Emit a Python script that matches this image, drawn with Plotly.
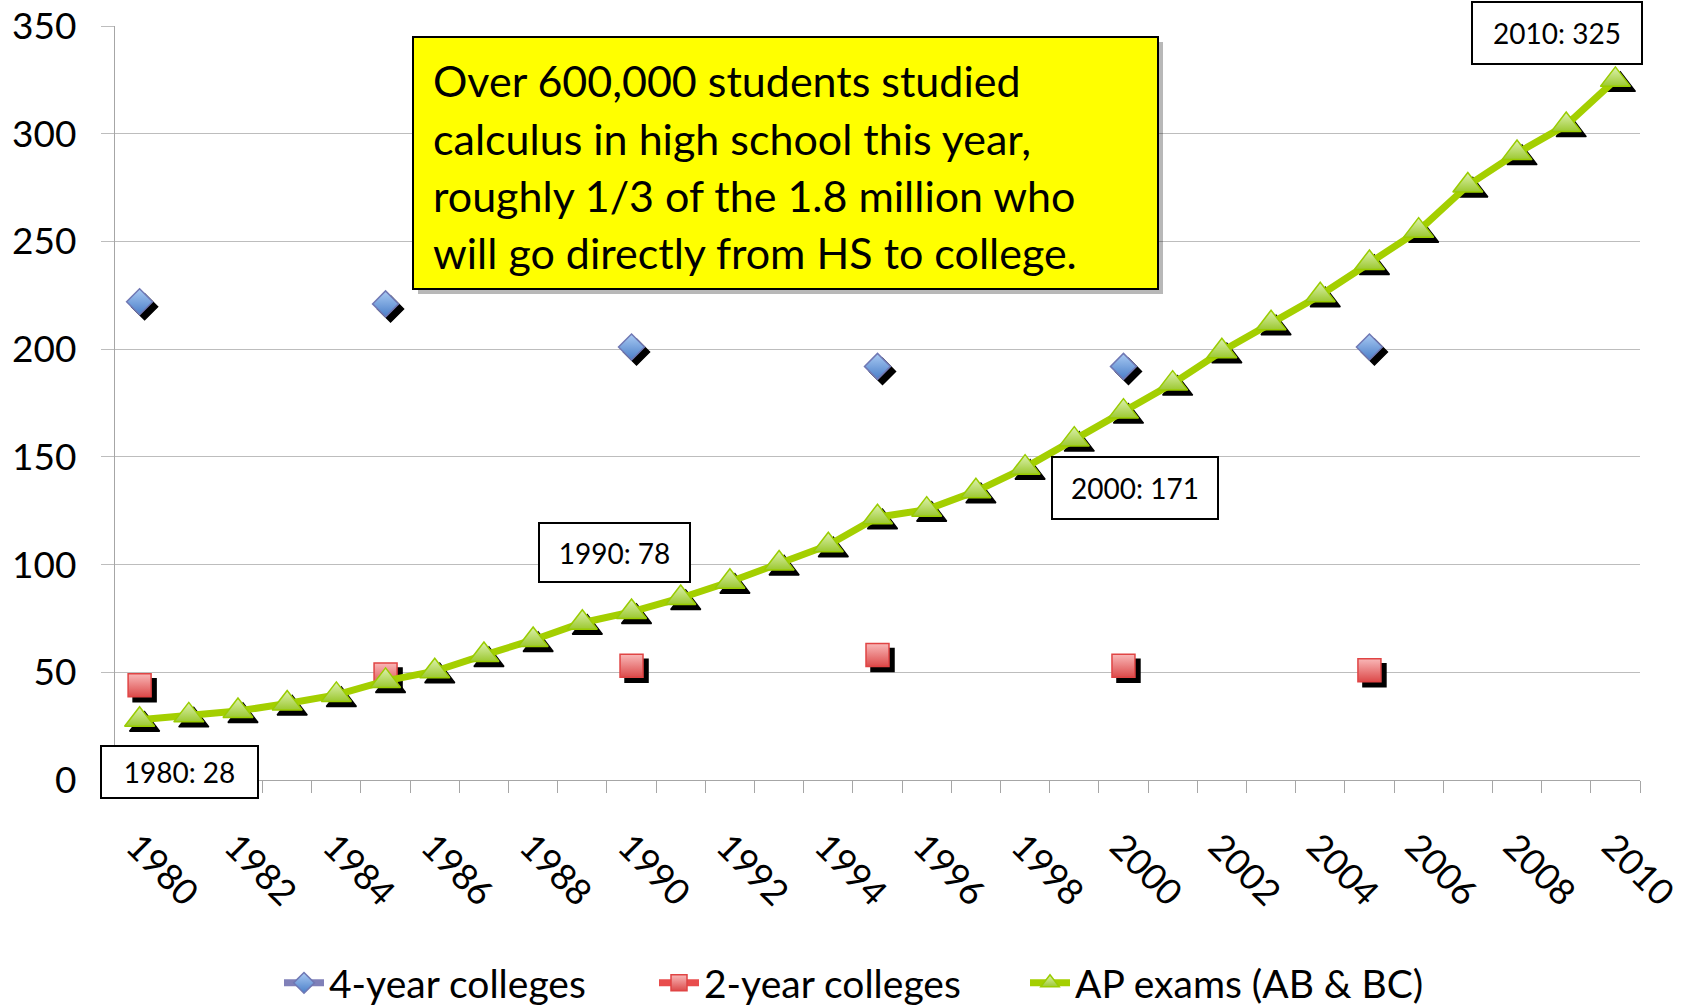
import plotly.graph_objects as go

# ---------------- data ----------------
years = list(range(1980, 2011))
ap_exams = [28, 30, 32, 35.5, 39.5, 46, 50.5, 58, 65, 73, 78, 84.5, 92, 100.5, 109,
            122, 125.5, 134, 145, 158, 171, 184, 199, 212, 225, 240, 255, 276, 291, 304, 325]
survey_years = [1980, 1985, 1990, 1995, 2000, 2005]
four_year = [222, 221, 201, 192, 192, 201]
two_year = [44, 49, 53, 58, 53, 51]
label_years = [1980, 1990, 2000, 2010]
tick_years = years[::2]
tick_text = [str(y) for y in tick_years]
note_lines = ["Over 600,000 students studied",
              "calculus in high school this year,",
              "roughly 1/3 of the 1.8 million who",
              "will go directly from HS to college."]

four_map = dict(zip(survey_years, four_year))
two_map = dict(zip(survey_years, two_year))
four_full = [four_map.get(y) for y in years]
two_full = [two_map.get(y) for y in years]
ap_map = dict(zip(years, ap_exams))

FONT = "Lato"
W, H = 1683, 1005
ML, MR, MT, MB = 115, 38, 26, 220
PW = W - ML - MR   # plot width
PH = H - MT - MB   # plot height
SH = 5             # shadow offset px

main_xdom = [0, (PW - SH) / PW]
main_ydom = [SH / PH, 1]
shad_xdom = [SH / PW, 1]
shad_ydom = [0, (PH - SH) / PH]
xr = [1979.5, 2010.5]
yr = [0, 350]

series = [
    dict(name="4-year colleges", y=four_full, symbol="diamond", size=20,
         top="#A9CAF3", bottom="#4A7EC8", edge="#7078B4", line="#8080B8",
         legend="legend", lx=279),
    dict(name="2-year colleges", y=two_full, symbol="square", size=23,
         top="#F9B8B8", bottom="#DC4A4A", edge="#E04444", line="#E84C4C",
         legend="legend2", lx=654),
    dict(name="AP exams (AB & BC)", y=ap_exams, symbol="triangle-up", size=26,
         top="#DDF2B0", bottom="#9CC830", edge="#99CC00", line="#A4CF00",
         legend="legend3", lx=1025),
]

fig = go.Figure()

# empty trace so that the visible grid axes (x / y) get drawn
fig.add_trace(go.Scatter(x=[], y=[], mode="markers", showlegend=False,
                         hoverinfo="skip", xaxis="x", yaxis="y"))

# shadows (offset subplot, drawn below main series)
for s in series:
    fig.add_trace(go.Scatter(
        x=years, y=s["y"], mode="markers", showlegend=False, hoverinfo="skip",
        marker=dict(symbol=s["symbol"], size=s["size"], color="black",
                    line=dict(color="black", width=1.5)),
        xaxis="x2", yaxis="y2"))

# main series
for s in series:
    fig.add_trace(go.Scatter(
        x=years, y=s["y"], name=s["name"], mode="lines+markers", connectgaps=False,
        line=dict(color=s["line"], width=7), legend=s["legend"],
        marker=dict(symbol=s["symbol"], size=s["size"], color=s["top"],
                    gradient=dict(type="vertical", color=s["bottom"]),
                    line=dict(color=s["edge"], width=1.5)),
        xaxis="x3", yaxis="y3"))

# data labels
label_style = {
    1980: dict(xs=40, ys=-52, w=155, h=50),
    1990: dict(xs=-17, ys=59, w=149, h=57),
    2000: dict(xs=12, ys=-76, w=164, h=60),
    2010: dict(xs=-58, ys=47, w=168, h=60),
}
for yv in label_years:
    st = label_style[yv]
    val = ap_map[yv]
    fig.add_annotation(
        x=yv, y=val, xref="x3", yref="y3", showarrow=False,
        text=f"{yv}: {val:g}", xshift=st["xs"], yshift=st["ys"],
        width=st["w"], height=st["h"], bgcolor="white", bordercolor="black",
        borderwidth=2, borderpad=0, font=dict(family=FONT, size=28, color="black"))

# note box (shadow + box) in paper coordinates
def px_x(px):
    return (px - ML) / PW

def px_y(py):
    return (MT + PH - py) / PH

bx0, bx1, by0, by1 = 413, 1158, 37, 289
fig.add_shape(type="rect", xref="paper", yref="paper",
              x0=px_x(bx0 + 5), x1=px_x(bx1 + 5), y0=px_y(by1 + 5), y1=px_y(by0 + 5),
              line=dict(width=0), fillcolor="rgba(0,0,0,0.28)", layer="above")
fig.add_shape(type="rect", xref="paper", yref="paper",
              x0=px_x(bx0), x1=px_x(bx1), y0=px_y(by1), y1=px_y(by0),
              line=dict(color="black", width=2), fillcolor="#FFFF00", layer="above")
line_centres = [80, 138, 195.5, 253]
for txt, cy in zip(note_lines, line_centres):
    fig.add_annotation(x=px_x(431), y=px_y(cy), xref="paper", yref="paper",
                       xanchor="left", yanchor="middle", showarrow=False, text=txt,
                       font=dict(family=FONT, size=43, color="black"))

grid = "#BDBDBD"
axis = "#A6A6A6"

legend_common = dict(orientation="h", xref="container", yref="container",
                     xanchor="left", y=1 - 983 / H, yanchor="middle",
                     font=dict(family=FONT, size=39, color="black"),
                     bgcolor="rgba(0,0,0,0)", itemwidth=40)
legends = {s["legend"]: dict(legend_common, x=s["lx"] / W) for s in series}

fig.update_layout(
    template="none",
    width=W, height=H, autosize=False,
    margin=dict(l=ML, r=MR, t=MT, b=MB, autoexpand=False),
    paper_bgcolor="white", plot_bgcolor="rgba(0,0,0,0)",
    font=dict(family=FONT, color="black"),
    xaxis=dict(domain=main_xdom, range=xr, anchor="y", tickmode="array",
               tickvals=tick_years, ticktext=tick_text, tickangle=45,
               tickfont=dict(family=FONT, size=36, color="black"),
               showgrid=False, zeroline=False, showline=True, linecolor=axis, linewidth=1.3,
               ticks="", ticklabelstandoff=30, automargin=False,
               ticklabeloverflow="allow", ticklabelshift=-3,
               minor=dict(ticks="outside", tick0=1979.5, dtick=1, ticklen=12,
                          tickcolor=axis, tickwidth=1.3, showgrid=False)),
    yaxis=dict(domain=main_ydom, range=yr, anchor="x", dtick=50, tick0=0,
               tickfont=dict(family=FONT, size=37, color="black"),
               showgrid=True, gridcolor=grid, gridwidth=1.3, zeroline=False,
               showline=True, linecolor=axis, linewidth=1.3, automargin=False,
               ticks="outside", ticklen=13, tickcolor=grid, tickwidth=1.3,
               ticklabelstandoff=17),
    xaxis2=dict(domain=shad_xdom, range=xr, anchor="y2", visible=False),
    yaxis2=dict(domain=shad_ydom, range=yr, anchor="x2", visible=False),
    xaxis3=dict(domain=main_xdom, range=xr, anchor="y3", visible=False),
    yaxis3=dict(domain=main_ydom, range=yr, anchor="x3", visible=False),
    showlegend=True,
    **legends,
)

fig.write_html("out.html")
